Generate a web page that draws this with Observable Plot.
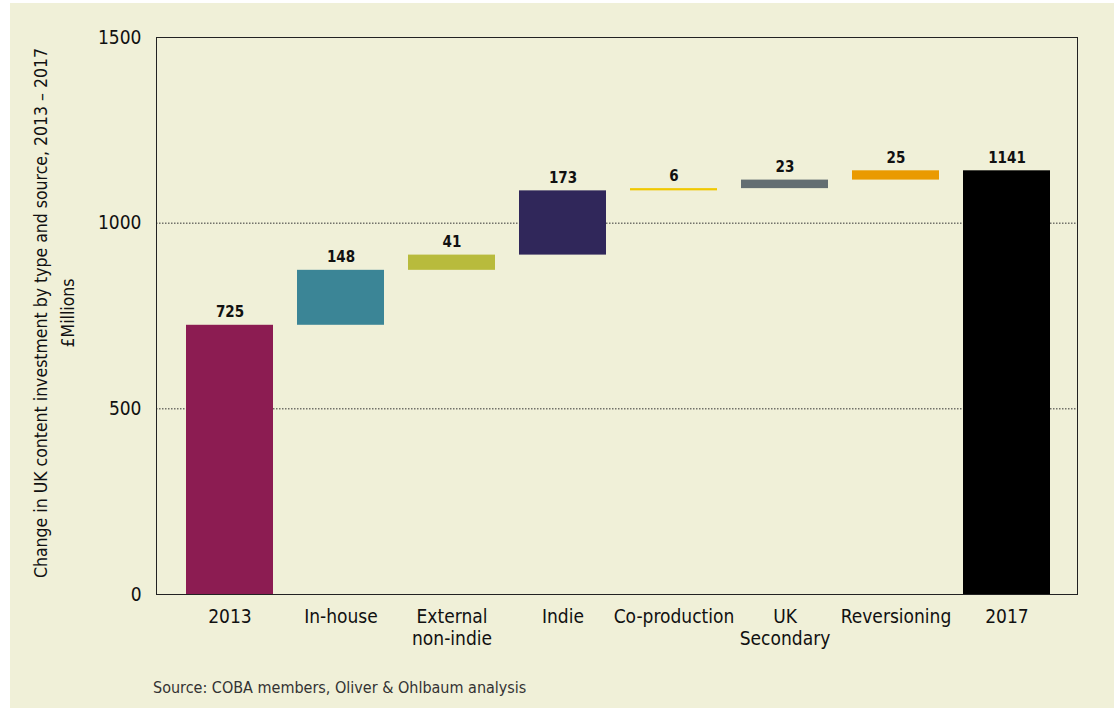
<!DOCTYPE html>
<html>
<head>
<meta charset="utf-8">
<script src="https://cdn.jsdelivr.net/npm/d3@7"></script>
<script src="https://cdn.jsdelivr.net/npm/@observablehq/plot@0.6"></script>
<style>
  html, body { margin: 0; padding: 0; background: #ffffff; }
  #bg { position: absolute; left: 10px; top: 3px; width: 1104px; height: 705px; background: #f0f0d8; }
  #chart { position: absolute; left: 0; top: 0; }
  #source { position: absolute; left: 153px; top: 678px; font-family: "DejaVu Sans Condensed", "DejaVu Sans", sans-serif; font-stretch: condensed; font-size: 16px; color: #333; }
</style>
</head>
<body>
<div id="bg"></div>
<div id="chart"></div>
<div id="source">Source: COBA members, Oliver &amp; Ohlbaum analysis</div>
<script>
const categories = ["2013", "In-house", "External\nnon-indie", "Indie", "Co-production", "UK\nSecondary", "Reversioning", "2017"];
const values = [725, 148, 41, 173, 6, 23, 25, 1141];
const colors = ["#8c1c52", "#3b8596", "#b8bb3c", "#30275a", "#f0c800", "#636e72", "#ea9a00", "#000000"];
const yTicks = [0, 500, 1000, 1500];
const gridValues = [500, 1000];
const yTitle1 = "Change in UK content investment by type and source, 2013 – 2017";
const yTitle2 = "£Millions";

let running = 0;
const data = categories.map((c, i) => {
  let start, end;
  if (i === 0 || i === categories.length - 1) { start = 0; end = values[i]; running = values[i]; }
  else { start = running; end = running + values[i]; running = end; }
  return { cat: c, value: values[i], start, end, color: colors[i] };
});

const font = '"DejaVu Sans Condensed", "DejaVu Sans", sans-serif';

const chart = Plot.plot({
  width: 1114,
  height: 708,
  marginLeft: 156,
  marginRight: 37,
  marginTop: 37,
  marginBottom: 114,
  style: { background: "transparent", fontFamily: font, fontStretch: "condensed", color: "#111" },
  x: { domain: categories, paddingInner: 0.22, paddingOuter: 0, insetLeft: 28, insetRight: 26, label: null },
  y: { domain: [0, 1500], label: null },
  marks: [
    Plot.gridY(gridValues, { stroke: "#333", strokeOpacity: 1, strokeDasharray: "1.5,1.5", strokeWidth: 1 }),
    Plot.barY(data, { x: "cat", y1: "start", y2: "end", fill: "color" }),
    Plot.text(data, { x: "cat", y: "end", text: d => String(d.value), dy: -8, lineAnchor: "bottom", fontWeight: "bold", fontSize: 15, fill: "#111" }),
    Plot.frame({ stroke: "#222", strokeWidth: 1 }),
    Plot.axisY({ ticks: yTicks, tickSize: 0, tickPadding: 15, fontSize: 19, label: null, tickFormat: d => String(d) }),
    Plot.axisX({ tickSize: 0, tickPadding: 12, fontSize: 19, lineHeight: 1.2, label: null }),
    Plot.text([yTitle1], { frameAnchor: "left", textAnchor: "middle", text: d => d, rotate: -90, dx: -115, dy: -3, fontSize: 17.5, fill: "#111" }),
    Plot.text([yTitle2], { frameAnchor: "left", textAnchor: "middle", text: d => d, rotate: -90, dx: -88, dy: -3, fontSize: 17.5, fill: "#111" })
  ]
});
document.getElementById("chart").appendChild(chart);
</script>
</body>
</html>
